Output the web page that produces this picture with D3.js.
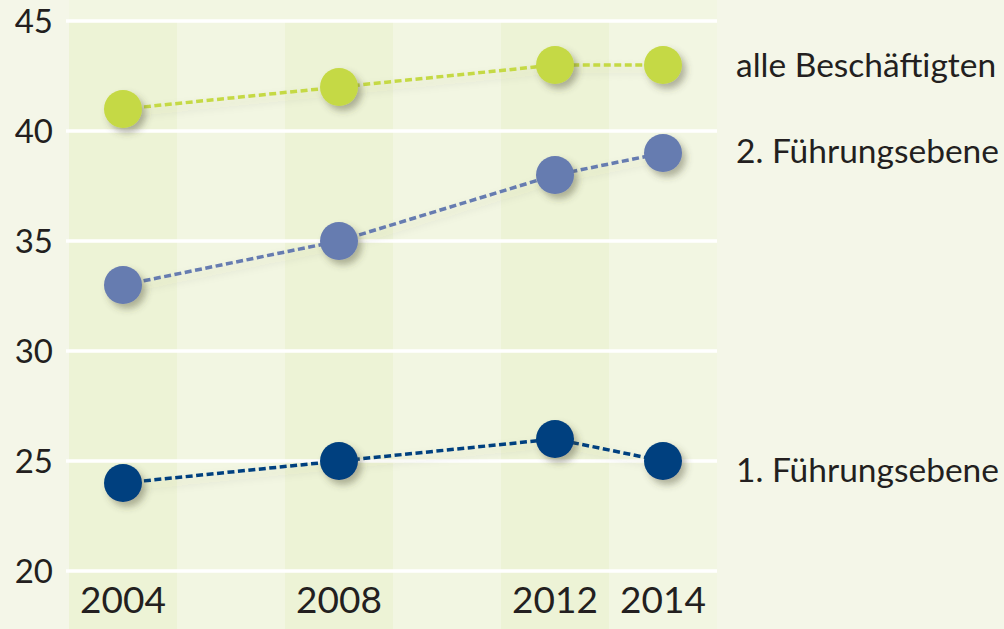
<!DOCTYPE html>
<html>
<head>
<meta charset="utf-8">
<script src="https://cdn.jsdelivr.net/npm/d3@7"></script>
<style>
  body { margin: 0; background: #f4f6e8; }
  svg { display: block; }
  text { font-family: Lato, "Open Sans", sans-serif; fill: #231f20; }
</style>
</head>
<body>
<div id="chart"></div>
<script>
const years = [2004, 2008, 2012, 2014];
const yTicks = [20, 25, 30, 35, 40, 45];
const stripeStarts = [2003, 2007, 2011];

const alleValues = [41, 42, 43, 43];
const fuehrung2Values = [33, 35, 38, 39];
const fuehrung1Values = [24, 25, 26, 25];

const seriesNames = ['alle Beschäftigten', '2. Führungsebene', '1. Führungsebene'];
const seriesColors = ['#c5d944', '#667bb0', '#00417f'];
const labelValues = [43, 39.1, 24.6];

const width = 1004, height = 629;

const svg = d3.select('#chart').append('svg')
  .attr('width', width)
  .attr('height', height);

const x = d3.scaleLinear().domain([2003, 2015]).range([69, 717]);
const y = d3.scaleLinear().domain([20, 45]).range([571, 21]);

const defs = svg.append('defs');
const shadow = defs.append('filter').attr('id', 'shadow')
  .attr('x', '-50%').attr('y', '-50%').attr('width', '200%').attr('height', '200%');
shadow.append('feDropShadow')
  .attr('dx', 4).attr('dy', 5).attr('stdDeviation', 3.5)
  .attr('flood-color', '#4a4a30').attr('flood-opacity', 0.4);

const lineShadow = defs.append('filter').attr('id', 'lineShadow')
  .attr('x', '-10%').attr('y', '-50%').attr('width', '120%').attr('height', '200%');
lineShadow.append('feDropShadow')
  .attr('dx', 2).attr('dy', 5).attr('stdDeviation', 4)
  .attr('flood-color', '#4a4a30').attr('flood-opacity', 0.18);

// plot background + stripes
svg.append('rect')
  .attr('x', x(2003)).attr('y', 0)
  .attr('width', x(2015) - x(2003)).attr('height', height)
  .attr('fill', '#f2f6e2');

svg.selectAll('.stripe')
  .data(stripeStarts)
  .enter().append('rect')
  .attr('class', 'stripe')
  .attr('x', d => x(d))
  .attr('y', y(45))
  .attr('width', d => x(d + 2) - x(d))
  .attr('height', height - y(45))
  .attr('fill', '#edf3d6');

// white grid lines
svg.selectAll('.grid')
  .data(yTicks)
  .enter().append('line')
  .attr('class', 'grid')
  .attr('x1', x(2003) - 3).attr('x2', x(2015))
  .attr('y1', d => y(d)).attr('y2', d => y(d))
  .attr('stroke', '#ffffff')
  .attr('stroke-width', 3.5);

// y axis labels
svg.selectAll('.ylab')
  .data(yTicks)
  .enter().append('text')
  .attr('class', 'ylab')
  .attr('x', 53)
  .attr('y', d => y(d))
  .attr('dy', '0.36em')
  .attr('text-anchor', 'end')
  .attr('font-size', 33)
  .text(d => d);

// x axis labels
svg.selectAll('.xlab')
  .data(years)
  .enter().append('text')
  .attr('class', 'xlab')
  .attr('x', d => x(d))
  .attr('y', 613)
  .attr('text-anchor', 'middle')
  .attr('font-size', 37)
  .text(d => d);

const series = [alleValues, fuehrung2Values, fuehrung1Values];

const line = d3.line()
  .x((d, i) => x(years[i]))
  .y(d => y(d));

series.forEach((values, s) => {
  svg.append('path')
    .datum(values)
    .attr('d', line)
    .attr('fill', 'none')
    .attr('stroke', seriesColors[s])
    .attr('stroke-width', 3.5)
    .attr('stroke-dasharray', '7,3.5')
    .attr('filter', 'url(#lineShadow)');
});

series.forEach((values, s) => {
  svg.selectAll('.dot' + s)
    .data(values)
    .enter().append('circle')
    .attr('class', 'dot' + s)
    .attr('cx', (d, i) => x(years[i]))
    .attr('cy', d => y(d))
    .attr('r', 19)
    .attr('fill', seriesColors[s])
    .attr('filter', 'url(#shadow)');
});

// series labels
svg.selectAll('.slab')
  .data(seriesNames)
  .enter().append('text')
  .attr('class', 'slab')
  .attr('x', 736)
  .attr('y', (d, i) => y(labelValues[i]))
  .attr('dy', '0.36em')
  .attr('font-size', 33.5)
  .text(d => d);
</script>
</body>
</html>
